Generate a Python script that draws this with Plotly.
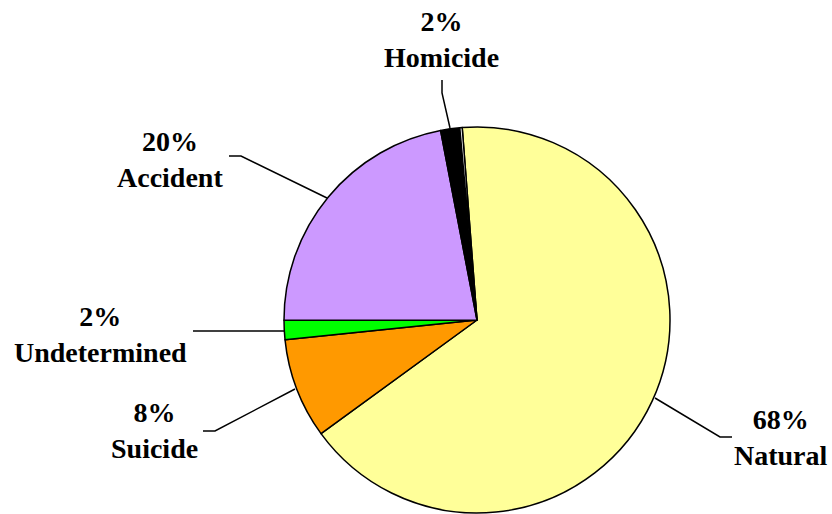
import plotly.graph_objects as go

categories = ["Natural", "Suicide", "Undetermined", "Accident", "Homicide", "Pending"]
values = [66.2, 8.4, 1.6, 22.0, 1.6, 0.2]
label_pct = ["68%", "8%", "2%", "20%", "2%", ""]
colors = ["#FFFF99", "#FF9900", "#00FF00", "#CC99FF", "#000000", "#FFFFFF"]

W, H = 832, 514
cx, cy, r = 477, 320, 193

fig = go.Figure()
fig.add_trace(go.Pie(
    labels=categories, values=values, sort=False, direction="clockwise",
    rotation=-4.4, textinfo="none", showlegend=False, hole=0,
    marker=dict(colors=colors, line=dict(color="#000000", width=1.5)),
    domain=dict(x=[(cx - r) / W, (cx + r) / W],
                y=[(H - cy - r) / H, (H - cy + r) / H]),
))

# label positions (pixel coords, y down) and leader-line paths
label_pos = {
    "Natural": (781, 437),
    "Suicide": (154, 430),
    "Undetermined": (100, 334),
    "Accident": (170, 159),
    "Homicide": (441, 39),
}
leaders = {
    "Natural": [(655, 398), (720, 437), (732, 437)],
    "Suicide": [(203, 431), (215, 431), (295, 389)],
    "Undetermined": [(193, 331), (284, 331)],
    "Accident": [(229, 156), (241, 156), (327, 198)],
    "Homicide": [(442, 80), (442, 93), (450, 128)],
}

annotations = []
shapes = []
for cat, pct in zip(categories, label_pct):
    if cat not in label_pos:
        continue
    x, y = label_pos[cat]
    annotations.append(dict(
        x=x, y=y, xref="x", yref="y", showarrow=False,
        text=f"<b>{pct}<br>{cat}</b>", align="center",
        xanchor="center", yanchor="middle",
        font=dict(family="Liberation Serif, Times New Roman, serif", size=28, color="#000000"),
    ))
    pts = leaders[cat]
    path = "M " + " L ".join(f"{px},{py}" for px, py in pts)
    shapes.append(dict(type="path", path=path, xref="x", yref="y",
                       line=dict(color="#000000", width=1.5)))

fig.update_layout(
    width=W, height=H, margin=dict(l=0, r=0, t=0, b=0),
    paper_bgcolor="#FFFFFF", plot_bgcolor="rgba(0,0,0,0)",
    xaxis=dict(range=[0, W], visible=False, fixedrange=True),
    yaxis=dict(range=[H, 0], visible=False, fixedrange=True),
    annotations=annotations, shapes=shapes,
)

fig.write_html("out.html", config={"displayModeBar": False},
               post_script="document.body.style.margin='0';document.body.style.overflow='hidden';")
